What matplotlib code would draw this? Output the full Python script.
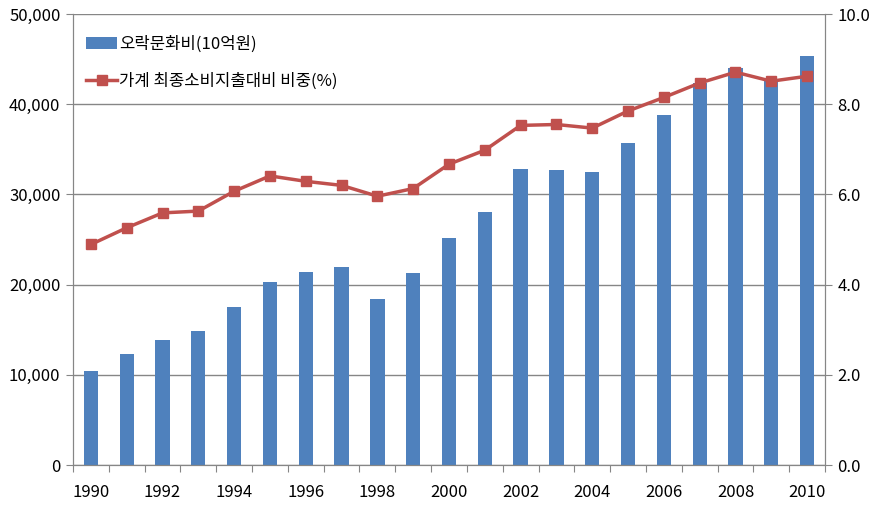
import matplotlib
matplotlib.use("Agg")
import matplotlib.pyplot as plt
from matplotlib.ticker import FuncFormatter, MultipleLocator, FixedLocator

plt.rcParams['font.family'] = ['Noto Sans CJK KR', 'DejaVu Sans']

# data
years = list(range(1990, 2011))
spending = [10400, 12300, 13900, 14900, 17500, 20300, 21400, 22000, 18400, 21300,
            25200, 28000, 32800, 32700, 32500, 35700, 38800, 42300, 44000, 42800, 45300]
share = [4.89, 5.26, 5.59, 5.63, 6.07, 6.41, 6.29, 6.20, 5.96, 6.13,
         6.67, 6.98, 7.53, 7.55, 7.47, 7.85, 8.15, 8.47, 8.71, 8.51, 8.62]
bar_label = '오락문화비(10억원)'
line_label = '가계 최종소비지출대비 비중(%)'

grid_col = '#868686'
fs = 12

fig = plt.figure(figsize=(8.79, 5.08), dpi=100)
ax = fig.add_axes([73/879, 1 - 465/508, 752/879, 451/508])
ax2 = ax.twinx()

x = list(range(len(years)))
ax.bar(x, spending, width=0.4, color='#4F81BD', label=bar_label, zorder=2)
ax2.plot(x, share, color='#C0504D', lw=2.5, marker='s', markersize=7,
         label=line_label, zorder=3)

ax.set_xlim(-0.5, len(years) - 0.5)
ax.set_ylim(0, 50000)
ax2.set_ylim(0, 10)

ax.yaxis.set_major_locator(MultipleLocator(10000))
ax.yaxis.set_major_formatter(FuncFormatter(lambda v, p: f'{int(v):,}'))
ax2.yaxis.set_major_locator(MultipleLocator(2))
ax2.yaxis.set_major_formatter(FuncFormatter(lambda v, p: f'{v:.1f}'))

ax.grid(axis='y', color=grid_col, lw=1, zorder=0)
ax.set_axisbelow(True)

# category-boundary tick marks, labels every other year
ax.xaxis.set_major_locator(FixedLocator([i - 0.5 for i in range(len(years) + 1)]))
ax.xaxis.set_major_formatter(FuncFormatter(lambda v, p: ''))
ax.xaxis.set_minor_locator(FixedLocator(x[::2]))
ax.set_xticklabels([str(y) for y in years[::2]], minor=True)
ax.tick_params(axis='x', which='major', length=5, color=grid_col, direction='out')
ax.tick_params(axis='x', which='minor', length=0, pad=14, labelsize=fs)
ax.tick_params(axis='y', length=5, color=grid_col, labelsize=fs, pad=4)
ax2.tick_params(axis='y', length=5, color=grid_col, labelsize=fs, pad=4)

for a in (ax, ax2):
    a.spines['top'].set_visible(False)
    for s in ('left', 'right', 'bottom'):
        a.spines[s].set_color(grid_col)

h1, l1 = ax.get_legend_handles_labels()
h2, l2 = ax2.get_legend_handles_labels()
leg = ax2.legend(h1 + h2, l1 + l2, loc='upper left', bbox_to_anchor=(-0.003, 0.985),
                 frameon=False, fontsize=fs, handlelength=1.9, handletextpad=0.1,
                 labelspacing=1.2)

fig.savefig('out.png', dpi=100)
